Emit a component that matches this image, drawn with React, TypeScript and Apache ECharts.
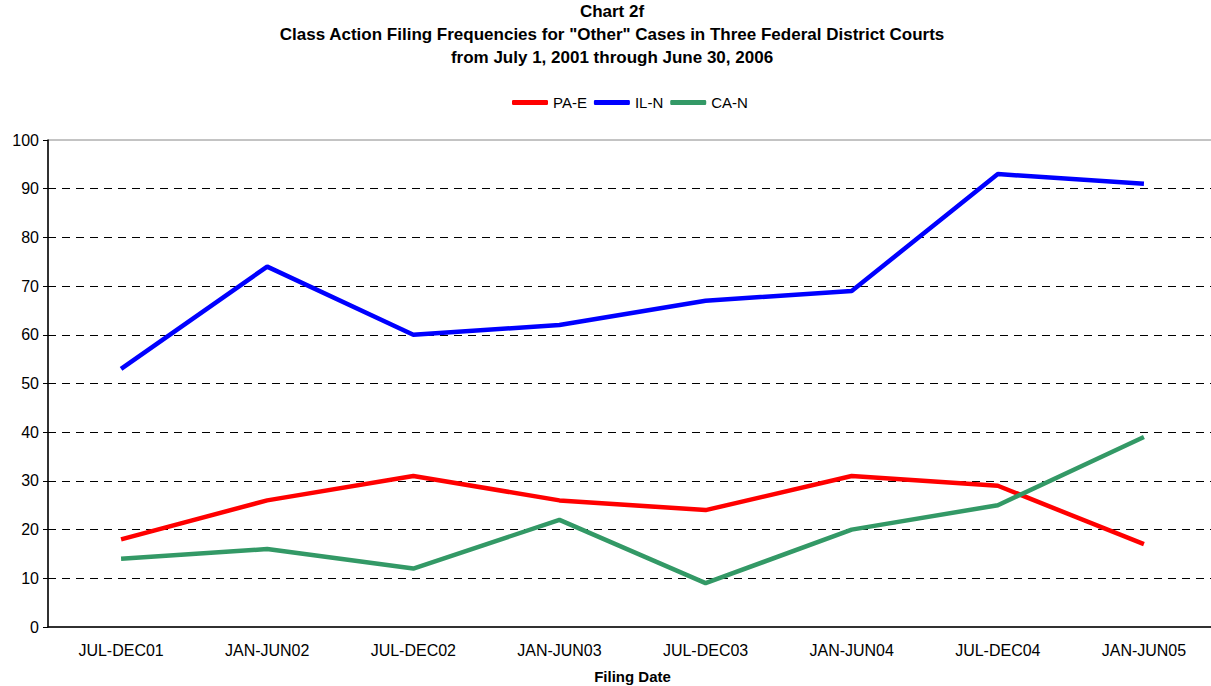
import React, { useEffect, useRef } from "react";
import * as echarts from "echarts";

const categories = ["JUL-DEC01", "JAN-JUN02", "JUL-DEC02", "JAN-JUN03", "JUL-DEC03", "JAN-JUN04", "JUL-DEC04", "JAN-JUN05"];
const paE = [18, 26, 31, 26, 24, 31, 29, 17];
const ilN = [53, 74, 60, 62, 67, 69, 93, 91];
const caN = [14, 16, 12, 22, 9, 20, 25, 39];
const yTicks = { min: 0, max: 100, interval: 10 };

export default function App() {
  const ref = useRef<HTMLDivElement>(null);
  useEffect(() => {
    if (!ref.current) return;
    const chart = echarts.init(ref.current, null, { renderer: "svg" });
    const font = "'Liberation Sans', Arial, sans-serif";
    chart.setOption({
      animation: false,
      backgroundColor: "#fff",
      textStyle: { fontFamily: font },
      title: {
        text: 'Chart 2f\nClass Action Filing Frequencies for "Other" Cases in Three Federal District Courts\nfrom July 1, 2001 through June 30, 2006',
        left: 612,
        textAlign: "center",
        top: 0,
        padding: 0,
        textStyle: { fontFamily: font, fontSize: 17, fontWeight: "bold", color: "#000", lineHeight: 23 },
      },
      legend: {
        left: 507,
        top: 90,
        icon: "roundRect",
        itemWidth: 36,
        itemHeight: 5,
        itemGap: 7,
        textStyle: { fontFamily: font, fontSize: 15, color: "#000" },
        data: ["PA-E", "IL-N", "CA-N"],
      },
      grid: {
        left: 48,
        right: -6,
        top: 140,
        bottom: 59,
        outerBoundsMode: "none",
        containLabel: false,
        show: true,
        borderColor: "#888",
        borderWidth: 1,
        backgroundColor: "transparent",
      },
      xAxis: {
        type: "category",
        data: categories,
        boundaryGap: true,
        axisLine: { lineStyle: { color: "#000", width: 1.5 } },
        axisTick: { show: false },
        axisLabel: { color: "#000", fontSize: 16, fontFamily: font, margin: 15 },
        name: "Filing Date",
        nameLocation: "middle",
        nameGap: 42,
        nameTextStyle: { color: "#000", fontSize: 15, fontWeight: "bold", fontFamily: font },
      },
      yAxis: {
        type: "value",
        min: yTicks.min,
        max: yTicks.max,
        interval: yTicks.interval,
        axisLine: { show: true, lineStyle: { color: "#000", width: 1.5 } },
        axisTick: { show: true, length: 5, lineStyle: { color: "#000" } },
        axisLabel: { color: "#000", fontSize: 16, fontFamily: font, margin: 9 },
        splitLine: {
          show: true,
          showMinLine: false,
          showMaxLine: false,
          lineStyle: { color: "#000", width: 1, type: [8, 6] },
        },
      },
      series: [
        { name: "PA-E", type: "line", data: paE, symbol: "none", lineStyle: { color: "#ff0000", width: 4.5 }, itemStyle: { color: "#ff0000" } },
        { name: "IL-N", type: "line", data: ilN, symbol: "none", lineStyle: { color: "#0000ff", width: 4.5 }, itemStyle: { color: "#0000ff" } },
        { name: "CA-N", type: "line", data: caN, symbol: "none", lineStyle: { color: "#339966", width: 4.5 }, itemStyle: { color: "#339966" } },
      ],
    });
    return () => chart.dispose();
  }, []);
  return <div ref={ref} style={{ position: "absolute", left: 0, top: 0, width: 1211, height: 686 }} />;
}
